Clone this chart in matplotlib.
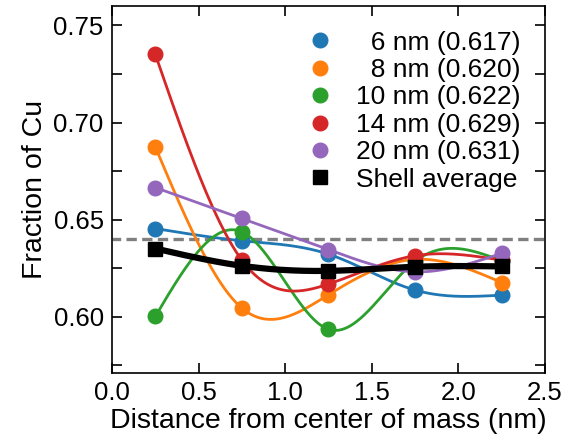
import numpy as np
import matplotlib
matplotlib.use('Agg')
import matplotlib.pyplot as plt
from matplotlib.ticker import MultipleLocator

plt.rcParams['font.family'] = ['Liberation Sans', 'DejaVu Sans']
plt.rcParams['font.size'] = 18.5

# shell centres (nm)
r = [0.25, 0.75, 1.25, 1.75, 2.25]

cu_6nm = [0.6454, 0.6391, 0.6322, 0.6137, 0.6111]
cu_8nm = [0.6874, 0.6044, 0.6113, 0.6295, 0.6176]
cu_10nm = [0.6001, 0.6437, 0.5935, 0.6285, 0.6288]
cu_14nm = [0.7351, 0.6291, 0.6168, 0.6314, 0.6291]
cu_20nm = [0.6665, 0.6506, 0.6346, 0.6231, 0.6326]
shell_avg = [0.6351, 0.6262, 0.6236, 0.6257, 0.6259]

labels = ['  6 nm (0.617)', '  8 nm (0.620)', '10 nm (0.622)',
          '14 nm (0.629)', '20 nm (0.631)']
colors = ['#1f77b4', '#ff7f0e', '#2ca02c', '#d62728', '#9467bd']
bulk = 0.64


def natural_spline(x, y, n=300):
    x = np.asarray(x, float)
    y = np.asarray(y, float)
    m = len(x)
    h = np.diff(x)
    A = np.zeros((m, m))
    b = np.zeros(m)
    A[0, 0] = A[-1, -1] = 1
    for i in range(1, m - 1):
        A[i, i - 1] = h[i - 1]
        A[i, i] = 2 * (h[i - 1] + h[i])
        A[i, i + 1] = h[i]
        b[i] = 6 * ((y[i + 1] - y[i]) / h[i] - (y[i] - y[i - 1]) / h[i - 1])
    M = np.linalg.solve(A, b)
    xs = np.linspace(x[0], x[-1], n)
    k = np.clip(np.searchsorted(x, xs) - 1, 0, m - 2)
    t0 = x[k + 1] - xs
    t1 = xs - x[k]
    hk = h[k]
    ys = (M[k] * t0**3 + M[k + 1] * t1**3) / (6 * hk) \
        + (y[k] / hk - M[k] * hk / 6) * t0 + (y[k + 1] / hk - M[k + 1] * hk / 6) * t1
    return xs, ys


fig = plt.figure(figsize=(5.73, 4.46), dpi=100)
ax = fig.add_axes([0.1955, 0.1637, 0.7555, 0.8228])

ax.axhline(bulk, color='gray', lw=2.4, ls=(0.5, (3.1, 1.6)), zorder=1)

for ys, c, lab in zip([cu_6nm, cu_8nm, cu_10nm, cu_14nm, cu_20nm], colors, labels):
    sx, sy = natural_spline(r, ys)
    ax.plot(sx, sy, color=c, lw=2, zorder=2)
    ax.plot(r, ys, 'o', color=c, ms=10.5, label=lab, zorder=3)

sx, sy = natural_spline(r, shell_avg)
ax.plot(sx, sy, color='black', lw=4.5, zorder=4)
ax.plot(r, shell_avg, 's', color='black', ms=10.5, label='Shell average', zorder=5)

ax.set_xlim(0, 2.5)
ax.set_ylim(0.571, 0.76)
ax.xaxis.set_major_locator(MultipleLocator(0.5))
ax.yaxis.set_major_locator(MultipleLocator(0.05))
ax.yaxis.set_minor_locator(MultipleLocator(0.025))
ax.tick_params(which='both', direction='in', top=True, right=True,
               length=7, width=1.2, pad=6)
for s in ax.spines.values():
    s.set_linewidth(1.2)

ax.set_xlabel('Distance from center of mass (nm)', fontsize=20.5, labelpad=2)
ax.set_ylabel('Fraction of Cu', fontsize=20.5)

ax.legend(loc='upper right', bbox_to_anchor=(0.967, 0.962), frameon=False,
          fontsize=19, handlelength=2.0, handletextpad=0.33,
          labelspacing=0.13, borderaxespad=0)

fig.savefig('out.png', dpi=100)
